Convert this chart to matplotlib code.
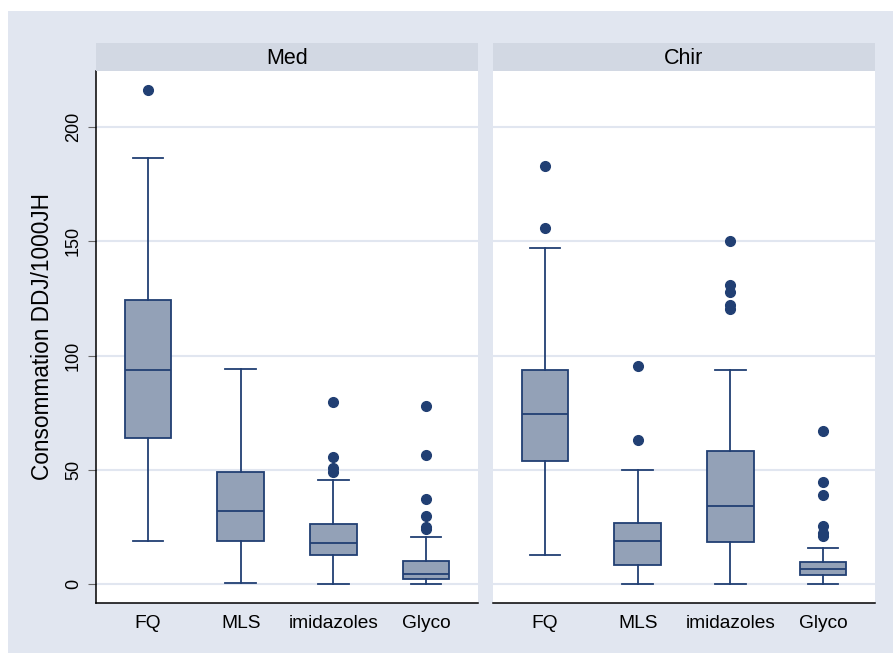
import numpy as np
import matplotlib

matplotlib.use("Agg")
import matplotlib.pyplot as plt
from matplotlib.patches import Rectangle

plt.rcParams["font.family"] = ["Liberation Sans", "DejaVu Sans"]

# --------------------------------------------------------------------------
# Donnees (DDJ/1000JH)
# --------------------------------------------------------------------------
categories = ["FQ", "MLS", "imidazoles", "Glyco"]
panneaux = ["Med", "Chir"]

# Med
med_whislo = [18.8, 0.4, 0.1, 0.0]
med_q1 = [63.9, 18.8, 12.5, 2.2]
med_median = [93.7, 32.0, 17.9, 4.5]
med_q3 = [124.3, 49.0, 26.1, 10.2]
med_whishi = [186.4, 94.1, 45.5, 20.7]
med_outliers = [
    [216.2],
    [],
    [79.6, 55.7, 50.6, 49.2],
    [78.0, 56.6, 37.3, 29.6, 25.1, 24.1],
]

# Chir
chir_whislo = [12.7, 0.0, 0.0, 0.0]
chir_q1 = [53.8, 8.2, 18.5, 3.9]
chir_median = [74.6, 18.7, 34.3, 6.4]
chir_q3 = [93.7, 26.6, 58.2, 9.8]
chir_whishi = [147.0, 50.0, 93.7, 15.6]
chir_outliers = [
    [182.9, 155.8],
    [95.4, 63.0],
    [150.0, 130.9, 127.8, 122.1, 120.4],
    [67.1, 44.8, 39.0, 25.4, 22.2, 21.0],
]

y_ticks = [0, 50, 100, 150, 200]

# --------------------------------------------------------------------------
# Couleurs (style Stata s2color)
# --------------------------------------------------------------------------
FOND = "#e1e6f0"
BANDEAU = "#d2d8e3"
GRILLE = "#e1e6f0"
BLEU = "#213f73"
REMPLI = "#93a1b7"


def stats(whislo, q1, med, q3, whishi, fliers):
    return [dict(whislo=a, q1=b, med=c, q3=d, whishi=e, fliers=f)
            for a, b, c, d, e, f in zip(whislo, q1, med, q3, whishi, fliers)]


donnees = {
    "Med": stats(med_whislo, med_q1, med_median, med_q3, med_whishi, med_outliers),
    "Chir": stats(chir_whislo, chir_q1, chir_median, chir_q3, chir_whishi, chir_outliers),
}

W, H = 893, 653
fig = plt.figure(figsize=(W / 100, H / 100), dpi=100, facecolor="white")
fig.patches.append(Rectangle((8 / W, 0), 1 - 8 / W, 1 - 11 / H,
                             transform=fig.transFigure, facecolor=FOND,
                             edgecolor="none", zorder=-10))

lefts = [96, 493]
largeur = 382
bas, haut = 603, 71

for i, nom in enumerate(panneaux):
    ax = fig.add_axes([lefts[i] / W, 1 - bas / H, largeur / W, (bas - haut) / H])
    ax.set_facecolor("white")
    pos = np.arange(1, len(categories) + 1)
    ax.bxp(donnees[nom], positions=pos, widths=0.5, patch_artist=True,
           boxprops=dict(facecolor=REMPLI, edgecolor=BLEU, linewidth=1.3),
           medianprops=dict(color=BLEU, linewidth=1.3),
           whiskerprops=dict(color=BLEU, linewidth=1.3),
           capprops=dict(color=BLEU, linewidth=1.3),
           capwidths=0.33,
           flierprops=dict(marker="o", markerfacecolor=BLEU,
                           markeredgecolor=BLEU, markersize=7))
    ax.set_xlim(0.44, 4.56)
    ax.set_ylim(-8.3, 224.5)
    ax.set_yticks(y_ticks)
    ax.yaxis.grid(True, color=GRILLE, linewidth=1.5)
    ax.set_axisbelow(True)
    ax.set_xticks(pos)
    ax.set_xticklabels(categories, fontsize=13.8)
    ax.tick_params(axis="x", length=0, pad=9)
    for s in ("top", "right"):
        ax.spines[s].set_visible(False)
    ax.spines["bottom"].set_linewidth(1.1)
    if i == 0:
        ax.spines["left"].set_linewidth(1.1)
        ax.set_yticklabels([str(t) for t in y_ticks], rotation=90,
                           va="center", fontsize=13)
        ax.tick_params(axis="y", length=6, color="#666666", pad=4)
        ax.set_ylabel("Consommation DDJ/1000JH", fontsize=16.3)
        ax.yaxis.set_label_coords(-0.111, 0.5)
    else:
        ax.spines["left"].set_visible(False)
        ax.tick_params(axis="y", length=0, labelleft=False)

    # bandeau de titre du panneau
    bx = fig.add_axes([lefts[i] / W, 1 - haut / H, largeur / W, 28 / H])
    bx.set_facecolor(BANDEAU)
    bx.set_xticks([])
    bx.set_yticks([])
    for s in bx.spines.values():
        s.set_visible(False)
    bx.text(0.5, 0.45, nom, ha="center", va="center", fontsize=15.5,
            transform=bx.transAxes)

fig.savefig("out.png", dpi=100, facecolor=fig.get_facecolor())
